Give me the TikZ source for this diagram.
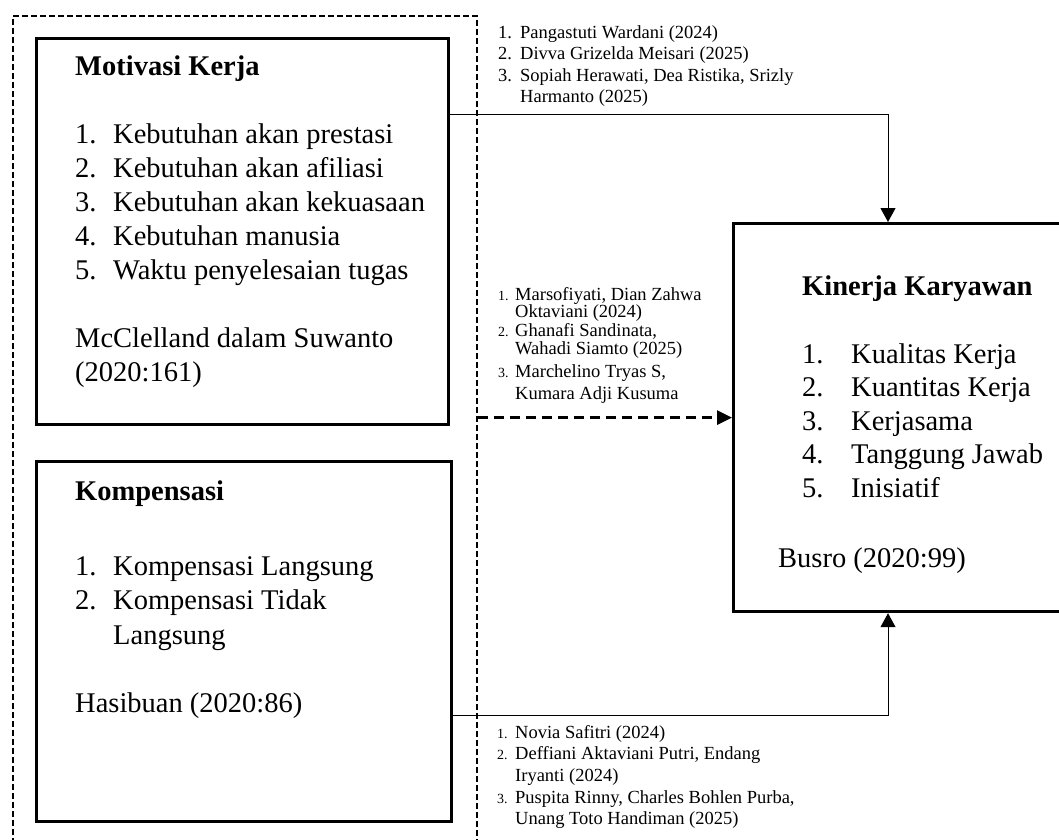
\documentclass[tikz,border=0pt]{standalone}
\usepackage{fontspec}
\setmainfont{Liberation Serif}
\usetikzlibrary{arrows.meta,positioning}

\begin{document}
\begin{tikzpicture}
  [
    x=1pt, y=-1pt,
    Box/.style={draw, line width=3.2pt, rectangle, anchor=north west, inner sep=0pt},
    Frame/.style={draw, line width=1.8pt, dash pattern=on 6pt off 3pt, rectangle, anchor=north west, inner sep=0pt},
    Txt/.style={anchor=base west, inner sep=0pt},
    Head/.style={Txt, font=\fontsize{28.5}{34}\selectfont\bfseries},
    Big/.style={Txt, font=\fontsize{28.5}{34}\selectfont},
    Small/.style={Txt, font=\fontsize{18.5}{21.5}\selectfont},
    Link/.style={draw, line width=1pt, -{Triangle[width=15pt,length=14pt]}},
    DLink/.style={draw, line width=3pt, dash pattern=on 10pt off 6pt, -{Triangle[width=14pt,length=15pt]}}
  ]
  \useasboundingbox (0,0) rectangle (1059,839);
  \newcommand{\nr}[1]{{\fontsize{14}{14}\selectfont #1}}

  % Boxes (x, y)
  \node[Frame, minimum width=464pt, minimum height=860pt] (frame) at (12,15) {};
  \node[Box, minimum width=412pt, minimum height=386pt] (motiv) at (35,37) {};
  \node[Box, minimum width=415pt, minimum height=360pt] (komp) at (35,460) {};
  \node[Box, minimum width=340pt, minimum height=388pt] (kinerja) at (732,222) {};

  % Motivasi Kerja
  \node[Head] (motivT) at (75,75) {Motivasi Kerja};
  \node[Big] (motivL) at (75,143) {\begin{tabular}[t]{@{}p{38pt}@{}l@{}}
    1. & Kebutuhan akan prestasi\\
    2. & Kebutuhan akan afiliasi\\
    3. & Kebutuhan akan kekuasaan\\
    4. & Kebutuhan manusia\\
    5. & Waktu penyelesaian tugas
  \end{tabular}};
  \node[Big] (motivS) at (75,347) {\begin{tabular}[t]{@{}l@{}}
    McClelland dalam Suwanto\\
    (2020:161)
  \end{tabular}};

  % Kompensasi
  \node[Head] (kompT) at (75,500) {Kompensasi};
  \node[Big, font=\fontsize{28.5}{34.5}\selectfont] (kompL) at (75,575) {\begin{tabular}[t]{@{}p{38pt}@{}l@{}}
    1. & Kompensasi Langsung\\
    2. & Kompensasi Tidak\\
       & Langsung
  \end{tabular}};
  \node[Big] (kompS) at (75,712) {Hasibuan (2020:86)};

  % Kinerja Karyawan
  \node[Head] (kinerjaT) at (802,295) {Kinerja Karyawan};
  \node[Big, font=\fontsize{28.5}{33.5}\selectfont] (kinerjaL) at (802,363) {\begin{tabular}[t]{@{}p{49pt}@{}l@{}}
    1. & Kualitas Kerja\\
    2. & Kuantitas Kerja\\
    3. & Kerjasama\\
    4. & Tanggung Jawab\\
    5. & Inisiatif
  \end{tabular}};
  \node[Big] (kinerjaS) at (778,567) {Busro (2020:99)};

  % Citations
  \node[Small] (citeA) at (498,38) {\begin{tabular}[t]{@{}p{22pt}@{}l@{}}
    1. & Pangastuti Wardani (2024)\\
    2. & Divva Grizelda Meisari (2025)\\
    3. & Sopiah Herawati, Dea Ristika, Srizly\\
       & Harmanto (2025)
  \end{tabular}};
  \node[Small, font=\fontsize{18.5}{18}\selectfont] (citeB) at (498,300) {\begin{tabular}[t]{@{}p{17pt}@{}l@{}}
    \nr{1.} & Marsofiyati, Dian Zahwa\\[-1pt]
            & Oktaviani (2024)\\[1pt]
    \nr{2.} & Ghanafi Sandinata,\\
            & Wahadi Siamto (2025)\\[4pt]
    \nr{3.} & Marchelino Tryas S,\\[4pt]
            & Kumara Adji Kusuma
  \end{tabular}};
  \node[Small, font=\fontsize{18.5}{21.7}\selectfont] (citeC) at (497,738) {\begin{tabular}[t]{@{}p{18pt}@{}l@{}}
    \nr{1.} & Novia Safitri (2024)\\
    \nr{2.} & Deffiani Aktaviani Putri, Endang\\
            & Iryanti (2024)\\
    \nr{3.} & Puspita Rinny, Charles Bohlen Purba,\\
            & Unang Toto Handiman (2025)
  \end{tabular}};

  % Lines
  \coordinate (topturn) at (888,114);
  \coordinate (botturn) at (888,715);
  % motivasi -> kinerja
  \path [Link] (motiv.east |- topturn) -- (topturn) -- (kinerja.north -| topturn);
  % kompensasi -> kinerja
  \path [Link] (komp.east |- botturn) -- (botturn) -- (kinerja.south -| botturn);
  % simultan -> kinerja
  \path [DLink] (kinerja.west -| frame.east) -- (kinerja.west);

\end{tikzpicture}
\end{document}
